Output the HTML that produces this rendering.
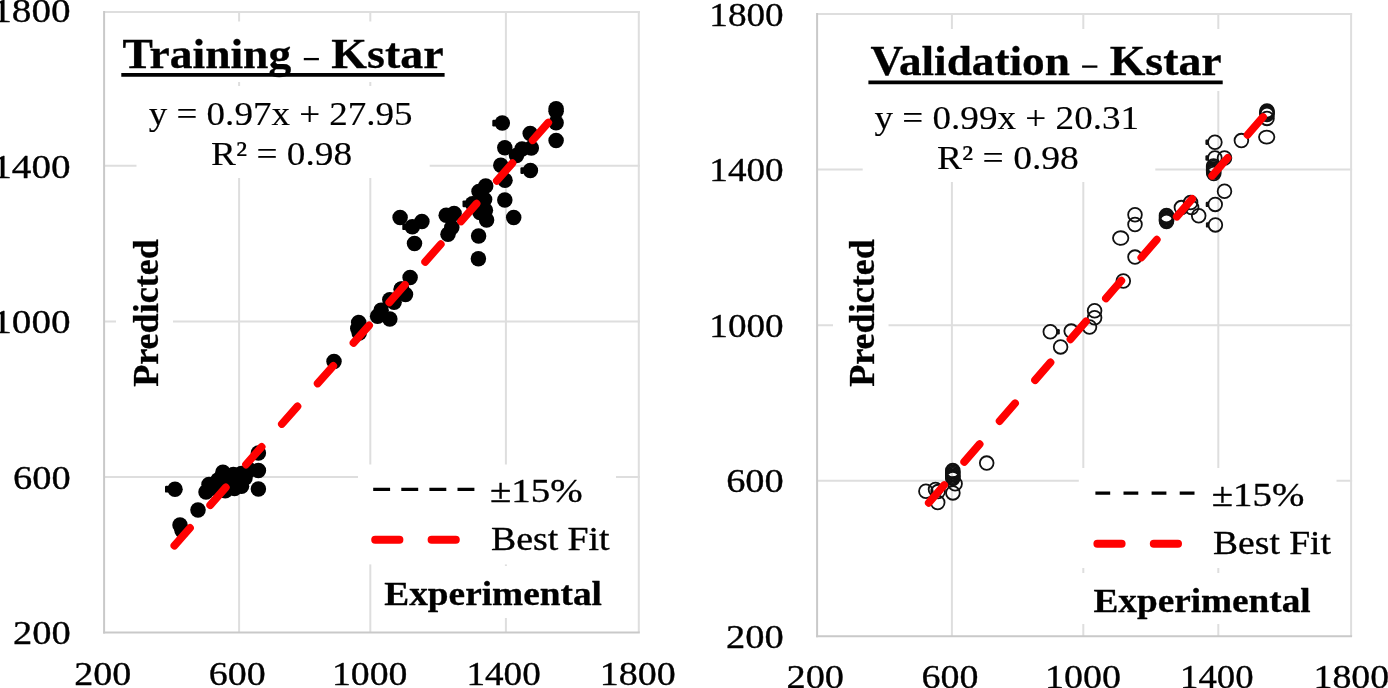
<!DOCTYPE html>
<html><head><meta charset="utf-8"><title>Kstar scatter plots</title>
<style>
html,body{margin:0;padding:0;background:#fff;}
body{width:1388px;height:688px;overflow:hidden;font-family:"Liberation Serif",serif;}
svg{display:block;}
text{font-family:"Liberation Serif",serif;fill:#000;}
</style></head><body>
<svg width="1388" height="688" viewBox="0 0 1388 688">
<rect width="1388" height="688" fill="#fff"/>
<g opacity="0.999">
<line x1="239.10" y1="11.00" x2="239.10" y2="632.60" stroke="#dedede" stroke-width="2"/>
<line x1="370.30" y1="11.00" x2="370.30" y2="632.60" stroke="#dedede" stroke-width="2"/>
<line x1="505.90" y1="11.00" x2="505.90" y2="632.60" stroke="#dedede" stroke-width="2"/>
<line x1="638.80" y1="11.00" x2="638.80" y2="632.60" stroke="#dedede" stroke-width="2"/>
<line x1="104.10" y1="12.00" x2="639.80" y2="12.00" stroke="#dedede" stroke-width="2"/>
<line x1="104.10" y1="165.80" x2="639.80" y2="165.80" stroke="#dedede" stroke-width="2"/>
<line x1="104.10" y1="321.40" x2="639.80" y2="321.40" stroke="#dedede" stroke-width="2"/>
<line x1="104.10" y1="477.00" x2="639.80" y2="477.00" stroke="#dedede" stroke-width="2"/>
<line x1="104.10" y1="11.00" x2="104.10" y2="633.60" stroke="#c9c9c9" stroke-width="2"/>
<line x1="103.10" y1="632.60" x2="639.80" y2="632.60" stroke="#c9c9c9" stroke-width="2"/>
<rect x="115.00" y="21.50" width="337.00" height="60.50" fill="#fff"/>
<rect x="136.50" y="86.00" width="293.20" height="92.00" fill="#fff"/>
<rect x="116.00" y="228.00" width="57.00" height="170.00" fill="#fff"/>
<rect x="358.00" y="464.50" width="258.00" height="99.90" fill="#fff"/>
<rect x="378.00" y="566.00" width="234.00" height="52.00" fill="#fff"/>
<circle cx="556.1" cy="108.7" r="7.75" fill="#000"/>
<circle cx="556.1" cy="111.2" r="7.75" fill="#000"/>
<circle cx="556.1" cy="122.7" r="7.75" fill="#000"/>
<circle cx="556.1" cy="140.6" r="7.75" fill="#000"/>
<circle cx="502.3" cy="123.1" r="7.75" fill="#000"/>
<circle cx="504.8" cy="147.8" r="7.75" fill="#000"/>
<circle cx="530.2" cy="133.6" r="7.75" fill="#000"/>
<circle cx="531.3" cy="148.0" r="7.75" fill="#000"/>
<circle cx="522.0" cy="149.0" r="7.75" fill="#000"/>
<circle cx="516.5" cy="155.5" r="7.75" fill="#000"/>
<circle cx="530.4" cy="170.6" r="7.75" fill="#000"/>
<circle cx="500.8" cy="165.3" r="7.75" fill="#000"/>
<circle cx="505.0" cy="180.2" r="7.75" fill="#000"/>
<circle cx="504.8" cy="200.0" r="7.75" fill="#000"/>
<circle cx="513.7" cy="217.5" r="7.75" fill="#000"/>
<circle cx="485.7" cy="185.9" r="7.75" fill="#000"/>
<circle cx="479.0" cy="191.5" r="7.75" fill="#000"/>
<circle cx="484.6" cy="199.6" r="7.75" fill="#000"/>
<circle cx="472.5" cy="203.8" r="7.75" fill="#000"/>
<circle cx="479.9" cy="212.6" r="7.75" fill="#000"/>
<circle cx="486.6" cy="220.0" r="7.75" fill="#000"/>
<circle cx="485.4" cy="210.2" r="7.75" fill="#000"/>
<circle cx="400.1" cy="217.4" r="7.75" fill="#000"/>
<circle cx="421.9" cy="221.5" r="7.75" fill="#000"/>
<circle cx="412.3" cy="226.7" r="7.75" fill="#000"/>
<circle cx="414.5" cy="243.6" r="7.75" fill="#000"/>
<circle cx="446.2" cy="215.2" r="7.75" fill="#000"/>
<circle cx="454.1" cy="213.5" r="7.75" fill="#000"/>
<circle cx="451.8" cy="227.6" r="7.75" fill="#000"/>
<circle cx="448.0" cy="234.2" r="7.75" fill="#000"/>
<circle cx="478.6" cy="236.0" r="7.75" fill="#000"/>
<circle cx="478.4" cy="258.8" r="7.75" fill="#000"/>
<circle cx="410.1" cy="277.4" r="7.75" fill="#000"/>
<circle cx="401.6" cy="288.9" r="7.75" fill="#000"/>
<circle cx="334.0" cy="361.6" r="7.75" fill="#000"/>
<circle cx="358.7" cy="322.4" r="7.75" fill="#000"/>
<circle cx="357.8" cy="328.5" r="7.75" fill="#000"/>
<circle cx="359.2" cy="332.9" r="7.75" fill="#000"/>
<circle cx="377.6" cy="316.3" r="7.75" fill="#000"/>
<circle cx="381.1" cy="310.2" r="7.75" fill="#000"/>
<circle cx="389.8" cy="318.9" r="7.75" fill="#000"/>
<circle cx="389.8" cy="299.7" r="7.75" fill="#000"/>
<circle cx="394.1" cy="302.3" r="7.75" fill="#000"/>
<circle cx="401.1" cy="289.2" r="7.75" fill="#000"/>
<circle cx="405.5" cy="294.5" r="7.75" fill="#000"/>
<circle cx="175.0" cy="489.2" r="7.75" fill="#000"/>
<circle cx="180.0" cy="525.1" r="7.75" fill="#000"/>
<circle cx="182.0" cy="530.5" r="7.75" fill="#000"/>
<circle cx="198.0" cy="509.9" r="7.75" fill="#000"/>
<circle cx="206.0" cy="492.0" r="7.75" fill="#000"/>
<circle cx="209.0" cy="484.5" r="7.75" fill="#000"/>
<circle cx="213.0" cy="488.0" r="7.75" fill="#000"/>
<circle cx="218.0" cy="480.0" r="7.75" fill="#000"/>
<circle cx="222.9" cy="472.2" r="7.75" fill="#000"/>
<circle cx="225.2" cy="490.8" r="7.75" fill="#000"/>
<circle cx="228.0" cy="482.0" r="7.75" fill="#000"/>
<circle cx="233.4" cy="474.5" r="7.75" fill="#000"/>
<circle cx="234.5" cy="488.5" r="7.75" fill="#000"/>
<circle cx="238.0" cy="480.0" r="7.75" fill="#000"/>
<circle cx="241.5" cy="473.4" r="7.75" fill="#000"/>
<circle cx="241.5" cy="486.2" r="7.75" fill="#000"/>
<circle cx="245.0" cy="478.0" r="7.75" fill="#000"/>
<circle cx="249.7" cy="469.9" r="7.75" fill="#000"/>
<circle cx="258.4" cy="453.0" r="7.75" fill="#000"/>
<circle cx="258.4" cy="470.5" r="7.75" fill="#000"/>
<circle cx="258.4" cy="489.1" r="7.75" fill="#000"/>
<rect x="165.0" y="485.8" width="3.5" height="6.8" rx="1.2" fill="#000"/>
<rect x="492.3" y="119.7" width="3.5" height="6.8" rx="1.2" fill="#000"/>
<rect x="520.4" y="167.2" width="3.5" height="6.8" rx="1.2" fill="#000"/>
<rect x="402.3" y="223.3" width="3.5" height="6.8" rx="1.2" fill="#000"/>
<rect x="462.5" y="200.4" width="3.5" height="6.8" rx="1.2" fill="#000"/>
<line x1="174.40" y1="545.60" x2="556.30" y2="113.50" stroke="#ff0000" stroke-width="7.8" stroke-linecap="round" stroke-dasharray="23.5 30.6"/>
<line x1="373.20" y1="489.30" x2="474.40" y2="489.30" stroke="#000" stroke-width="3.3" stroke-dasharray="16.9 11.2"/>
<line x1="375.20" y1="539.80" x2="459.60" y2="539.80" stroke="#ff0000" stroke-width="8" stroke-linecap="round" stroke-dasharray="24.2 32.2"/>
<text transform="translate(-7.76,21.90) scale(1.1640,1)" font-size="33.7" font-weight="normal" stroke="#000" stroke-width="0.35" stroke-linejoin="round">1800</text>
<text transform="translate(-7.76,177.50) scale(1.1640,1)" font-size="33.7" font-weight="normal" stroke="#000" stroke-width="0.35" stroke-linejoin="round">1400</text>
<text transform="translate(-7.76,333.10) scale(1.1640,1)" font-size="33.7" font-weight="normal" stroke="#000" stroke-width="0.35" stroke-linejoin="round">1000</text>
<text transform="translate(13.04,488.60) scale(1.1399,1)" font-size="33.7" font-weight="normal" stroke="#000" stroke-width="0.35" stroke-linejoin="round">600</text>
<text transform="translate(12.94,644.30) scale(1.1419,1)" font-size="33.7" font-weight="normal" stroke="#000" stroke-width="0.35" stroke-linejoin="round">200</text>
<text transform="translate(74.26,685.40) scale(1.1294,1)" font-size="33.7" font-weight="normal" stroke="#000" stroke-width="0.35" stroke-linejoin="round">200</text>
<text transform="translate(208.76,685.40) scale(1.1274,1)" font-size="33.7" font-weight="normal" stroke="#000" stroke-width="0.35" stroke-linejoin="round">600</text>
<text transform="translate(331.97,685.40) scale(1.1197,1)" font-size="33.7" font-weight="normal" stroke="#000" stroke-width="0.35" stroke-linejoin="round">1000</text>
<text transform="translate(466.42,685.40) scale(1.1039,1)" font-size="33.7" font-weight="normal" stroke="#000" stroke-width="0.35" stroke-linejoin="round">1400</text>
<text transform="translate(599.85,685.40) scale(1.1260,1)" font-size="33.7" font-weight="normal" stroke="#000" stroke-width="0.35" stroke-linejoin="round">1800</text>
<text transform="translate(122.57,67.70) scale(1.0585,1)" font-size="43" font-weight="bold" stroke="#000" stroke-width="0.3" stroke-linejoin="round">Training</text>
<text transform="translate(331.35,67.70) scale(1.0685,1)" font-size="43" font-weight="bold" stroke="#000" stroke-width="0.3" stroke-linejoin="round">Kstar</text>
<text transform="translate(148.71,125.00) scale(1.1156,1)" font-size="33.2" font-weight="normal" stroke="#000" stroke-width="0.15" stroke-linejoin="round">y = 0.97x + 27.95</text>
<text transform="translate(211.06,164.80) scale(1.1241,1)" font-size="33.2" font-weight="normal" stroke="#000" stroke-width="0.15" stroke-linejoin="round">R² = 0.98</text>
<text transform="translate(489.92,501.80) scale(1.1440,1)" font-size="34" font-weight="normal" stroke="#000" stroke-width="0.35" stroke-linejoin="round">±15%</text>
<text transform="translate(491.04,550.00) scale(1.1374,1)" font-size="33.2" font-weight="normal" stroke="#000" stroke-width="0.35" stroke-linejoin="round">Best Fit</text>
<text transform="translate(384.30,605.10) scale(1.1385,1)" font-size="32.8" font-weight="bold" stroke="#000" stroke-width="0.3" stroke-linejoin="round">Experimental</text>
<text transform="translate(158.10,386.83) rotate(-90) scale(0.9887,0.9697)" font-size="36.5" font-weight="bold" stroke="#000" stroke-width="0.3">Predicted</text>
<line x1="121.30" y1="74.80" x2="444.60" y2="74.80" stroke="#000" stroke-width="3.8"/>
<line x1="303.80" y1="59.10" x2="318.90" y2="59.10" stroke="#000" stroke-width="2.3"/>
<line x1="951.90" y1="13.10" x2="951.90" y2="636.30" stroke="#dedede" stroke-width="2"/>
<line x1="1083.30" y1="13.10" x2="1083.30" y2="636.30" stroke="#dedede" stroke-width="2"/>
<line x1="1218.30" y1="13.10" x2="1218.30" y2="636.30" stroke="#dedede" stroke-width="2"/>
<line x1="1351.10" y1="13.10" x2="1351.10" y2="636.30" stroke="#dedede" stroke-width="2"/>
<line x1="817.10" y1="14.10" x2="1352.10" y2="14.10" stroke="#dedede" stroke-width="2"/>
<line x1="817.10" y1="169.60" x2="1352.10" y2="169.60" stroke="#dedede" stroke-width="2"/>
<line x1="817.10" y1="325.20" x2="1352.10" y2="325.20" stroke="#dedede" stroke-width="2"/>
<line x1="817.10" y1="480.80" x2="1352.10" y2="480.80" stroke="#dedede" stroke-width="2"/>
<line x1="817.10" y1="13.10" x2="817.10" y2="637.30" stroke="#c9c9c9" stroke-width="2"/>
<line x1="816.10" y1="636.30" x2="1352.10" y2="636.30" stroke="#c9c9c9" stroke-width="2"/>
<rect x="860.00" y="29.00" width="370.00" height="62.00" fill="#fff"/>
<rect x="862.70" y="91.00" width="292.60" height="91.00" fill="#fff"/>
<rect x="833.00" y="228.00" width="55.50" height="170.00" fill="#fff"/>
<rect x="1078.80" y="468.00" width="257.70" height="100.00" fill="#fff"/>
<rect x="1076.00" y="573.00" width="246.00" height="51.00" fill="#fff"/>
<ellipse cx="1266.7" cy="137.1" rx="7.7" ry="6.5" fill="none" stroke="#111" stroke-width="1.8"/>
<ellipse cx="1267.0" cy="110.9" rx="6.85" ry="6.85" fill="none" stroke="#111" stroke-width="1.8"/>
<ellipse cx="1267.0" cy="112.1" rx="6.85" ry="6.85" fill="none" stroke="#111" stroke-width="1.8"/>
<ellipse cx="1267.0" cy="113.3" rx="6.85" ry="6.85" fill="none" stroke="#111" stroke-width="1.8"/>
<ellipse cx="1267.0" cy="114.5" rx="6.85" ry="6.85" fill="none" stroke="#111" stroke-width="1.8"/>
<ellipse cx="1267.0" cy="118.4" rx="6.85" ry="6.85" fill="none" stroke="#111" stroke-width="1.8"/>
<ellipse cx="1241.4" cy="140.6" rx="6.85" ry="6.85" fill="none" stroke="#111" stroke-width="1.8"/>
<ellipse cx="1214.9" cy="142.3" rx="6.85" ry="6.85" fill="none" stroke="#111" stroke-width="1.8"/>
<ellipse cx="1214.9" cy="158.0" rx="6.85" ry="6.85" fill="none" stroke="#111" stroke-width="1.8"/>
<ellipse cx="1224.5" cy="158.0" rx="6.85" ry="6.85" fill="none" stroke="#111" stroke-width="1.8"/>
<ellipse cx="1213.6" cy="166.0" rx="6.85" ry="6.85" fill="none" stroke="#111" stroke-width="1.8"/>
<ellipse cx="1213.6" cy="167.5" rx="6.85" ry="6.85" fill="none" stroke="#111" stroke-width="1.8"/>
<ellipse cx="1213.6" cy="169.0" rx="6.85" ry="6.85" fill="none" stroke="#111" stroke-width="1.8"/>
<ellipse cx="1213.6" cy="170.5" rx="6.85" ry="6.85" fill="none" stroke="#111" stroke-width="1.8"/>
<ellipse cx="1213.6" cy="172.0" rx="6.85" ry="6.85" fill="none" stroke="#111" stroke-width="1.8"/>
<ellipse cx="1213.8" cy="173.5" rx="6.85" ry="6.85" fill="none" stroke="#111" stroke-width="1.8"/>
<ellipse cx="1224.5" cy="191.3" rx="6.85" ry="6.85" fill="none" stroke="#111" stroke-width="1.8"/>
<ellipse cx="1215.2" cy="204.4" rx="6.85" ry="6.85" fill="none" stroke="#111" stroke-width="1.8"/>
<ellipse cx="1215.4" cy="224.9" rx="6.85" ry="6.85" fill="none" stroke="#111" stroke-width="1.8"/>
<ellipse cx="1198.7" cy="215.8" rx="6.85" ry="6.85" fill="none" stroke="#111" stroke-width="1.8"/>
<ellipse cx="1190.6" cy="202.6" rx="6.85" ry="6.85" fill="none" stroke="#111" stroke-width="1.8"/>
<ellipse cx="1181.4" cy="207.6" rx="6.85" ry="6.85" fill="none" stroke="#111" stroke-width="1.8"/>
<ellipse cx="1191.6" cy="207.6" rx="6.85" ry="6.85" fill="none" stroke="#111" stroke-width="1.8"/>
<ellipse cx="1166.5" cy="215.6" rx="6.85" ry="6.85" fill="none" stroke="#111" stroke-width="1.8"/>
<ellipse cx="1166.5" cy="216.8" rx="6.85" ry="6.85" fill="none" stroke="#111" stroke-width="1.8"/>
<ellipse cx="1166.5" cy="218.0" rx="6.85" ry="6.85" fill="none" stroke="#111" stroke-width="1.8"/>
<ellipse cx="1166.5" cy="219.2" rx="6.85" ry="6.85" fill="none" stroke="#111" stroke-width="1.8"/>
<ellipse cx="1166.5" cy="220.4" rx="6.85" ry="6.85" fill="none" stroke="#111" stroke-width="1.8"/>
<ellipse cx="1166.5" cy="221.4" rx="6.85" ry="6.85" fill="none" stroke="#111" stroke-width="1.8"/>
<ellipse cx="1135.0" cy="214.8" rx="6.85" ry="6.85" fill="none" stroke="#111" stroke-width="1.8"/>
<ellipse cx="1135.0" cy="224.5" rx="6.85" ry="6.85" fill="none" stroke="#111" stroke-width="1.8"/>
<ellipse cx="1120.7" cy="238.1" rx="7.7" ry="6.85" fill="none" stroke="#111" stroke-width="1.8"/>
<ellipse cx="1135.0" cy="257.1" rx="6.85" ry="6.85" fill="none" stroke="#111" stroke-width="1.8"/>
<ellipse cx="1123.3" cy="281.0" rx="6.85" ry="6.85" fill="none" stroke="#111" stroke-width="1.8"/>
<ellipse cx="1094.6" cy="310.7" rx="6.85" ry="6.85" fill="none" stroke="#111" stroke-width="1.8"/>
<ellipse cx="1094.6" cy="317.8" rx="6.85" ry="6.85" fill="none" stroke="#111" stroke-width="1.8"/>
<ellipse cx="1089.5" cy="327.0" rx="6.85" ry="6.85" fill="none" stroke="#111" stroke-width="1.8"/>
<ellipse cx="1071.2" cy="331.1" rx="6.85" ry="6.85" fill="none" stroke="#111" stroke-width="1.8"/>
<ellipse cx="1050.3" cy="331.7" rx="6.85" ry="6.85" fill="none" stroke="#111" stroke-width="1.8"/>
<ellipse cx="1060.6" cy="346.9" rx="6.85" ry="6.85" fill="none" stroke="#111" stroke-width="1.8"/>
<ellipse cx="986.7" cy="463.1" rx="6.85" ry="6.85" fill="none" stroke="#111" stroke-width="1.8"/>
<ellipse cx="952.8" cy="470.6" rx="6.85" ry="6.85" fill="none" stroke="#111" stroke-width="1.8"/>
<ellipse cx="952.8" cy="472.0" rx="6.85" ry="6.85" fill="none" stroke="#111" stroke-width="1.8"/>
<ellipse cx="952.8" cy="473.4" rx="6.85" ry="6.85" fill="none" stroke="#111" stroke-width="1.8"/>
<ellipse cx="952.8" cy="474.8" rx="6.85" ry="6.85" fill="none" stroke="#111" stroke-width="1.8"/>
<ellipse cx="952.8" cy="476.2" rx="6.85" ry="6.85" fill="none" stroke="#111" stroke-width="1.8"/>
<ellipse cx="952.8" cy="477.6" rx="6.85" ry="6.85" fill="none" stroke="#111" stroke-width="1.8"/>
<ellipse cx="952.8" cy="478.6" rx="6.85" ry="6.85" fill="none" stroke="#111" stroke-width="1.8"/>
<ellipse cx="955.1" cy="483.8" rx="6.85" ry="6.85" fill="none" stroke="#111" stroke-width="1.8"/>
<ellipse cx="952.9" cy="492.9" rx="6.85" ry="6.85" fill="none" stroke="#111" stroke-width="1.8"/>
<ellipse cx="925.9" cy="491.2" rx="6.85" ry="6.85" fill="none" stroke="#111" stroke-width="1.8"/>
<ellipse cx="935.5" cy="489.4" rx="6.85" ry="6.85" fill="none" stroke="#111" stroke-width="1.8"/>
<ellipse cx="938.1" cy="491.6" rx="6.85" ry="6.85" fill="none" stroke="#111" stroke-width="1.8"/>
<ellipse cx="937.7" cy="502.5" rx="6.85" ry="6.85" fill="none" stroke="#111" stroke-width="1.8"/>
<rect x="1205.4" y="139.6" width="3.2" height="5.4" rx="1.2" fill="#111"/>
<rect x="1205.4" y="155.3" width="3.2" height="5.4" rx="1.2" fill="#111"/>
<rect x="1205.7" y="201.7" width="3.2" height="5.4" rx="1.2" fill="#111"/>
<rect x="1205.9" y="222.2" width="3.2" height="5.4" rx="1.2" fill="#111"/>
<rect x="1056.6" y="329.0" width="3.2" height="5.4" rx="1.2" fill="#111"/>
<line x1="928.80" y1="502.80" x2="1266.70" y2="112.80" stroke="#ff0000" stroke-width="7.8" stroke-linecap="round" stroke-dasharray="23.5 30.6"/>
<line x1="1095.40" y1="493.10" x2="1194.50" y2="493.10" stroke="#000" stroke-width="3.3" stroke-dasharray="14.8 13.3"/>
<line x1="1097.40" y1="543.70" x2="1181.80" y2="543.70" stroke="#ff0000" stroke-width="8" stroke-linecap="round" stroke-dasharray="24.2 32.2"/>
<text transform="translate(709.32,25.70) scale(1.1039,1)" font-size="33.7" font-weight="normal" stroke="#000" stroke-width="0.35" stroke-linejoin="round">1800</text>
<text transform="translate(709.32,181.20) scale(1.1039,1)" font-size="33.7" font-weight="normal" stroke="#000" stroke-width="0.35" stroke-linejoin="round">1400</text>
<text transform="translate(709.32,336.80) scale(1.1039,1)" font-size="33.7" font-weight="normal" stroke="#000" stroke-width="0.35" stroke-linejoin="round">1000</text>
<text transform="translate(726.14,492.40) scale(1.1399,1)" font-size="33.7" font-weight="normal" stroke="#000" stroke-width="0.35" stroke-linejoin="round">600</text>
<text transform="translate(726.04,647.90) scale(1.1419,1)" font-size="33.7" font-weight="normal" stroke="#000" stroke-width="0.35" stroke-linejoin="round">200</text>
<text transform="translate(786.45,688.40) scale(1.1398,1)" font-size="33.7" font-weight="normal" stroke="#000" stroke-width="0.35" stroke-linejoin="round">200</text>
<text transform="translate(921.46,688.40) scale(1.1274,1)" font-size="33.7" font-weight="normal" stroke="#000" stroke-width="0.35" stroke-linejoin="round">600</text>
<text transform="translate(1045.05,688.40) scale(1.1260,1)" font-size="33.7" font-weight="normal" stroke="#000" stroke-width="0.35" stroke-linejoin="round">1000</text>
<text transform="translate(1180.06,688.40) scale(1.0896,1)" font-size="33.7" font-weight="normal" stroke="#000" stroke-width="0.35" stroke-linejoin="round">1400</text>
<text transform="translate(1313.46,688.40) scale(1.1244,1)" font-size="33.7" font-weight="normal" stroke="#000" stroke-width="0.35" stroke-linejoin="round">1800</text>
<text transform="translate(870.38,75.10) scale(1.0524,1)" font-size="43" font-weight="bold" stroke="#000" stroke-width="0.3" stroke-linejoin="round">Validation</text>
<text transform="translate(1109.65,75.10) scale(1.0666,1)" font-size="43" font-weight="bold" stroke="#000" stroke-width="0.3" stroke-linejoin="round">Kstar</text>
<text transform="translate(874.41,128.80) scale(1.1192,1)" font-size="33.2" font-weight="normal" stroke="#000" stroke-width="0.15" stroke-linejoin="round">y = 0.99x + 20.31</text>
<text transform="translate(936.95,168.70) scale(1.1306,1)" font-size="33.2" font-weight="normal" stroke="#000" stroke-width="0.15" stroke-linejoin="round">R² = 0.98</text>
<text transform="translate(1211.72,505.80) scale(1.1440,1)" font-size="34" font-weight="normal" stroke="#000" stroke-width="0.35" stroke-linejoin="round">±15%</text>
<text transform="translate(1213.05,554.20) scale(1.1316,1)" font-size="33.2" font-weight="normal" stroke="#000" stroke-width="0.35" stroke-linejoin="round">Best Fit</text>
<text transform="translate(1093.50,612.30) scale(1.1354,1)" font-size="32.8" font-weight="bold" stroke="#000" stroke-width="0.3" stroke-linejoin="round">Experimental</text>
<text transform="translate(874.10,386.83) rotate(-90) scale(0.9887,0.9697)" font-size="36.5" font-weight="bold" stroke="#000" stroke-width="0.3">Predicted</text>
<line x1="868.40" y1="82.40" x2="1222.70" y2="82.40" stroke="#000" stroke-width="3.8"/>
<line x1="1082.10" y1="66.60" x2="1097.40" y2="66.60" stroke="#000" stroke-width="2.3"/>
</g>
</svg>
</body></html>
